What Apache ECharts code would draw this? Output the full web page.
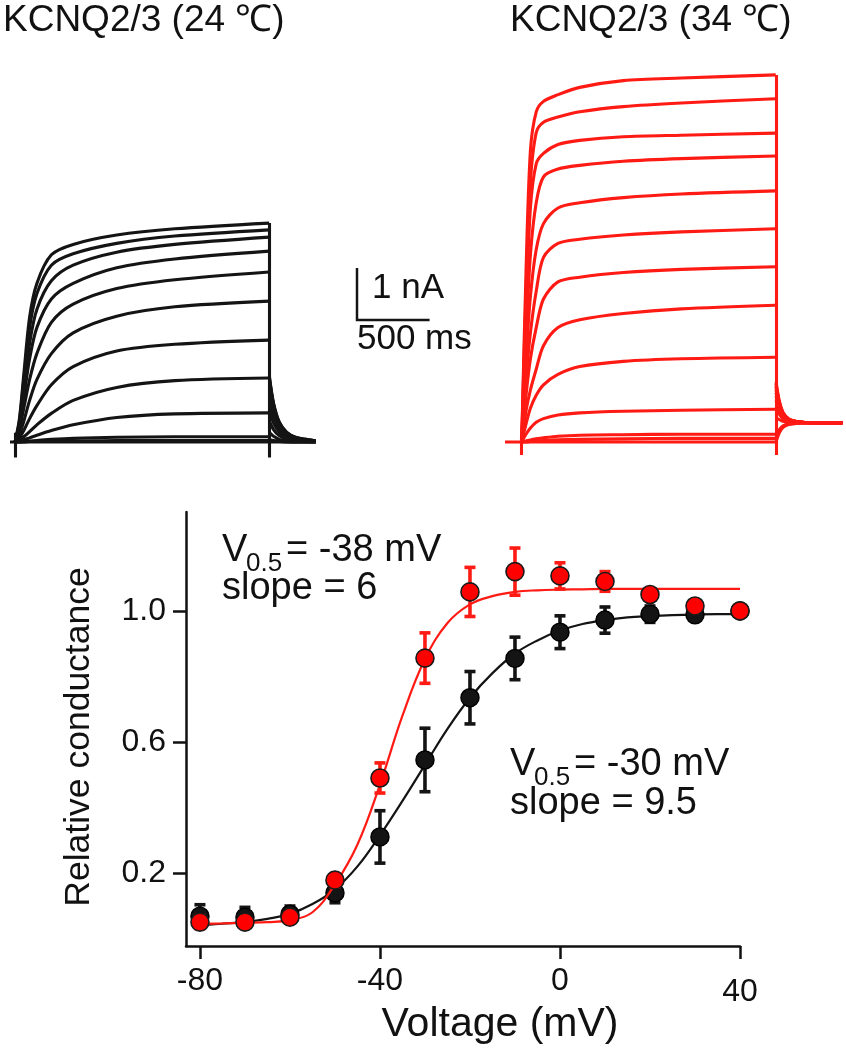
<!DOCTYPE html>
<html><head><meta charset="utf-8">
<script src="https://cdn.jsdelivr.net/npm/echarts@6/dist/echarts.min.js"></script>
<style>html,body{margin:0;padding:0;background:#fff}#c{width:846px;height:1050px}</style>
</head><body><div id="c"></div>
<script>
// ---------------- Current traces (time in ms, current in nA) ----------------
const traceTimes = [0, 30, 60, 100, 150, 250, 400, 700, 1100, 1750];
const pulseEnd = 1750;
const tailTimes24 = [1752, 1780, 1820, 1870, 1930, 2000, 2070];
const tailTimes34 = [1752, 1775, 1800, 1840, 1900, 2000, 2100, 2210];
const baselineStart24 = -35;
const baselineStart34 = -115;

const traces24 = [
  [0, 0.45, 1.30, 2.40, 3.05, 3.60, 3.80, 3.98, 4.10, 4.21],
  [0, 0.40, 1.20, 2.20, 2.85, 3.40, 3.62, 3.82, 3.96, 4.08],
  [0, 0.35, 1.00, 1.90, 2.55, 3.10, 3.40, 3.65, 3.80, 3.94],
  [0, 0.30, 0.85, 1.60, 2.20, 2.75, 3.05, 3.35, 3.52, 3.67],
  [0, 0.25, 0.65, 1.20, 1.70, 2.30, 2.65, 2.95, 3.12, 3.27],
  [0, 0.15, 0.40, 0.80, 1.20, 1.70, 2.10, 2.42, 2.60, 2.71],
  [0, 0.08, 0.22, 0.45, 0.70, 1.10, 1.45, 1.75, 1.88, 1.96],
  [0, 0.04, 0.10, 0.20, 0.33, 0.55, 0.80, 1.05, 1.18, 1.23],
  [0, 0.02, 0.04, 0.08, 0.13, 0.22, 0.33, 0.47, 0.54, 0.56],
  [0, 0.00, 0.01, 0.02, 0.03, 0.05, 0.07, 0.09, 0.10, 0.10],
  [0, 0.00, 0.00, 0.01, 0.01, 0.02, 0.02, 0.03, 0.03, 0.03],
  [0, 0, 0, 0, 0, 0, 0, 0, 0, 0]
];
const tails24 = [
  [1.25, 0.75, 0.38, 0.19, 0.09, 0.05, 0.02],
  [1.22, 0.73, 0.37, 0.18, 0.09, 0.05, 0.02],
  [1.18, 0.71, 0.35, 0.18, 0.08, 0.05, 0.02],
  [1.10, 0.66, 0.33, 0.17, 0.08, 0.04, 0.02],
  [1.00, 0.60, 0.30, 0.15, 0.07, 0.04, 0.02],
  [0.85, 0.51, 0.26, 0.13, 0.06, 0.03, 0.01],
  [0.62, 0.37, 0.19, 0.09, 0.04, 0.02, 0.01],
  [0.40, 0.24, 0.12, 0.06, 0.03, 0.02, 0.01],
  [0.18, 0.11, 0.05, 0.03, 0.01, 0.01, 0.00],
  [0.05, 0.03, 0.02, 0.01, 0.00, 0.00, 0.00],
  [0.02, 0.01, 0.01, 0.00, 0.00, 0.00, 0.00],
  [0.00, 0.00, 0.00, 0.00, 0.00, 0.00, 0.00]
];
const traces34 = [
  [0, 3.30, 5.60, 6.35, 6.55, 6.68, 6.82, 6.95, 7.00, 7.06],
  [0, 2.90, 5.00, 5.95, 6.15, 6.25, 6.35, 6.45, 6.52, 6.60],
  [0, 2.50, 4.50, 5.35, 5.55, 5.72, 5.80, 5.87, 5.90, 5.94],
  [0, 2.00, 3.60, 4.60, 5.10, 5.25, 5.32, 5.40, 5.45, 5.50],
  [0, 1.60, 2.80, 3.70, 4.20, 4.50, 4.60, 4.70, 4.77, 4.83],
  [0, 1.20, 2.10, 2.90, 3.55, 3.82, 3.90, 3.98, 4.04, 4.10],
  [0, 0.90, 1.60, 2.20, 2.75, 3.08, 3.17, 3.26, 3.32, 3.37],
  [0, 0.60, 1.00, 1.40, 1.85, 2.20, 2.35, 2.47, 2.56, 2.63],
  [0, 0.35, 0.65, 0.90, 1.10, 1.30, 1.45, 1.55, 1.60, 1.63],
  [0, 0.15, 0.27, 0.38, 0.45, 0.52, 0.56, 0.59, 0.61, 0.63],
  [0, 0.02, 0.04, 0.06, 0.08, 0.11, 0.13, 0.14, 0.15, 0.15],
  [0, 0.00, 0.01, 0.02, 0.03, 0.04, 0.05, 0.06, 0.07, 0.07],
  [0, 0, 0, 0, 0, 0, 0, 0, 0, 0]
];
const tails34 = [
  [1.15, 0.78, 0.57, 0.44, 0.39, 0.37, 0.37, 0.37],
  [1.12, 0.76, 0.56, 0.44, 0.39, 0.37, 0.37, 0.37],
  [1.08, 0.74, 0.55, 0.43, 0.39, 0.37, 0.37, 0.37],
  [1.05, 0.72, 0.54, 0.43, 0.39, 0.37, 0.37, 0.37],
  [1.00, 0.70, 0.53, 0.43, 0.39, 0.37, 0.37, 0.37],
  [0.95, 0.67, 0.52, 0.42, 0.39, 0.37, 0.37, 0.37],
  [0.88, 0.64, 0.50, 0.42, 0.38, 0.37, 0.37, 0.37],
  [0.80, 0.60, 0.48, 0.41, 0.38, 0.37, 0.37, 0.37],
  [0.65, 0.53, 0.45, 0.40, 0.38, 0.37, 0.37, 0.37],
  [0.45, 0.43, 0.40, 0.38, 0.37, 0.37, 0.37, 0.37],
  [0.12, 0.24, 0.31, 0.35, 0.37, 0.37, 0.37, 0.37],
  [0.06, 0.20, 0.29, 0.34, 0.36, 0.37, 0.37, 0.37],
  [0.00, 0.18, 0.28, 0.34, 0.36, 0.37, 0.37, 0.37]
];
// capacitive transients [time, from nA, to nA]
const transients24 = [[0, -0.30, 0.18], [pulseEnd, -0.30, 4.21]];
const transients34 = [[0, -0.25, 0.10], [pulseEnd, -0.25, 7.06]];
// scale bar: 500 ms, 1 nA
const scaleBarTime = 500;
const scaleBarCurrent = 1;
const scaleBarOrigin = [186, 2.346];

// ---------------- Conductance-voltage ----------------
const voltages = [-80, -70, -60, -50, -40, -30, -20, -10, 0, 10, 20, 30, 40];
const g24   = [0.068, 0.065, 0.074, 0.139, 0.31, 0.545, 0.735, 0.855, 0.935, 0.972, 0.99, 0.988, 1.0];
const err24 = [0.035, 0.03, 0.025, 0.03, 0.08, 0.097, 0.08, 0.065, 0.05, 0.04, 0.025, 0.015, 0];
const g34   = [0.05, 0.05, 0.065, 0.178, 0.49, 0.856, 1.058, 1.12, 1.107, 1.09, 1.05, 1.015, 1.0];
const err34 = [0.02, 0.015, 0.015, 0.02, 0.046, 0.077, 0.075, 0.072, 0.04, 0.03, 0.015, 0, 0];
const fitVoltages = [-80, -75, -70, -65, -60, -55, -50, -45, -40, -35, -30, -25, -20, -15, -10, -5, 0, 5, 10, 15, 20, 25, 30, 35, 40];
const fit24 = [0.04, 0.045, 0.05, 0.06, 0.075, 0.105, 0.15, 0.22, 0.315, 0.42, 0.53, 0.64, 0.735, 0.81, 0.87, 0.91, 0.94, 0.96, 0.972, 0.98, 0.984, 0.987, 0.989, 0.99, 0.99];
const fit34 = [0.045, 0.046, 0.048, 0.05, 0.056, 0.08, 0.165, 0.287, 0.47, 0.68, 0.853, 0.963, 1.02, 1.045, 1.058, 1.063, 1.065, 1.066, 1.067, 1.067, 1.067, 1.067, 1.067, 1.067, 1.067];
const xTicks = [-80, -40, 0, 40];
const yTicks = [0.2, 0.6, 1.0];

// ---------------- chart ----------------
const FONT = '"Liberation Sans", Arial, sans-serif';
const BLACK = '#141414';
const RED = '#ff1a14';
const chart = echarts.init(document.getElementById('c'), null, {renderer: 'canvas'});

const series = [];
function traceSeries(gi, color, data) {
  return {type: 'line', xAxisIndex: gi, yAxisIndex: gi, showSymbol: false, silent: true,
    smooth: 0.3, lineStyle: {color: color, width: 3.1}, data: data};
}
// baselines before pulse onset
series.push(traceSeries(0, BLACK, [[baselineStart24, 0], [0, 0]]));
series.push(traceSeries(1, RED, [[baselineStart34, 0], [0, 0]]));
traces24.forEach((tr, i) => {
  series.push(traceSeries(0, BLACK, traceTimes.map((t, j) => [t, tr[j]])));
  series.push(traceSeries(0, BLACK, tailTimes24.map((t, j) => [t, tails24[i][j]])));
});
traces34.forEach((tr, i) => {
  series.push(traceSeries(1, RED, traceTimes.map((t, j) => [t, tr[j]])));
  series.push(traceSeries(1, RED, tailTimes34.map((t, j) => [t, tails34[i][j]])));
});
series.push({
  type: 'lines', coordinateSystem: 'cartesian2d', xAxisIndex: 0, yAxisIndex: 0, silent: true,
  lineStyle: {color: BLACK, width: 3.1, opacity: 1},
  data: transients24.map(t => ({coords: [[t[0], t[1]], [t[0], t[2]]]}))
});
series.push({
  type: 'lines', coordinateSystem: 'cartesian2d', xAxisIndex: 1, yAxisIndex: 1, silent: true,
  lineStyle: {color: RED, width: 3.1, opacity: 1},
  data: transients34.map(t => ({coords: [[t[0], t[1]], [t[0], t[2]]]}))
});
series.push({
  type: 'lines', coordinateSystem: 'cartesian2d', xAxisIndex: 2, yAxisIndex: 2, silent: true,
  polyline: true,
  lineStyle: {color: BLACK, width: 2.5, opacity: 1},
  data: [{coords: [
    [scaleBarOrigin[0], scaleBarOrigin[1] + scaleBarCurrent],
    [scaleBarOrigin[0], scaleBarOrigin[1]],
    [scaleBarOrigin[0] + scaleBarTime, scaleBarOrigin[1]]
  ]}]
});

function errSeries(vals, errs, color, z) {
  return {
    type: 'custom', xAxisIndex: 3, yAxisIndex: 3, z: z, silent: true,
    data: voltages.map((v, i) => [v, vals[i] - errs[i], vals[i] + errs[i]]).filter((d, i) => errs[i] > 0),
    renderItem(params, api) {
      const lo = api.coord([api.value(0), api.value(1)]);
      const hi = api.coord([api.value(0), api.value(2)]);
      const cw = 5.5;
      const st = {stroke: color, lineWidth: 3.6};
      return {type: 'group', children: [
        {type: 'line', shape: {x1: lo[0], y1: lo[1], x2: hi[0], y2: hi[1]}, style: st},
        {type: 'line', shape: {x1: lo[0] - cw, y1: lo[1], x2: lo[0] + cw, y2: lo[1]}, style: st},
        {type: 'line', shape: {x1: hi[0] - cw, y1: hi[1], x2: hi[0] + cw, y2: hi[1]}, style: st}
      ]};
    }
  };
}
series.push({
  type: 'line', xAxisIndex: 3, yAxisIndex: 3, z: 2, showSymbol: false, silent: true, smooth: 0.4,
  lineStyle: {color: BLACK, width: 2.2},
  data: fitVoltages.map((v, i) => [v, fit24[i]])
});
series.push(errSeries(g24, err24, BLACK, 3));
series.push({
  type: 'scatter', xAxisIndex: 3, yAxisIndex: 3, z: 4, silent: true, symbol: 'circle', symbolSize: 18,
  itemStyle: {color: BLACK, borderColor: '#000', borderWidth: 1.5, opacity: 1},
  data: voltages.map((v, i) => [v, g24[i]])
});
series.push({
  type: 'line', xAxisIndex: 3, yAxisIndex: 3, z: 5, showSymbol: false, silent: true, smooth: 0.4,
  lineStyle: {color: RED, width: 2.2},
  data: fitVoltages.map((v, i) => [v, fit34[i]])
});
series.push(errSeries(g34, err34, RED, 6));
series.push({
  type: 'scatter', xAxisIndex: 3, yAxisIndex: 3, z: 7, silent: true, symbol: 'circle', symbolSize: 18,
  itemStyle: {color: '#ff0000', borderColor: '#1a1a1a', borderWidth: 1.6, opacity: 1},
  data: voltages.map((v, i) => [v, g34[i]])
});

const hiddenX = (min, max, gi) => ({type: 'value', gridIndex: gi, min, max, show: false});
const hiddenY = (gi) => ({type: 'value', gridIndex: gi, min: -0.5, max: 7.5, show: false});
const axisStyle = {color: '#111', width: 2.5};

function txt(x, y, text, size, align, extra) {
  return Object.assign({type: 'text', x, y, silent: true, style: {
    text, fontSize: size, fontFamily: FONT, fill: '#111',
    align: align || 'left', verticalAlign: 'middle'
  }}, extra || {});
}

chart.setOption({
  animation: false,
  backgroundColor: '#fff',
  grid: [
    {left: 10, top: 52, width: 310, height: 416},
    {left: 505, top: 52, width: 339, height: 416},
    {left: 330, top: 52, width: 170, height: 416},
    {left: 186, top: 512, width: 554, height: 434}
  ],
  xAxis: [
    hiddenX(baselineStart24, 2100, 0),
    hiddenX(baselineStart34, 2220, 1),
    hiddenX(0, 1171, 2),
    {type: 'value', gridIndex: 3, min: -83.1, max: 40,
     axisLine: {show: true, onZero: false, lineStyle: axisStyle},
     axisTick: {show: true, customValues: xTicks, length: 13, lineStyle: axisStyle},
     axisLabel: {customValues: xTicks, fontSize: 32, fontFamily: FONT, color: '#111', margin: 19,
       formatter: v => v === 40 ? '{low|40}' : String(v),
       rich: {low: {fontSize: 32, fontFamily: FONT, color: '#111', padding: [11, 0, 0, 0]}}},
     splitLine: {show: false}}
  ],
  yAxis: [
    hiddenY(0), hiddenY(1), hiddenY(2),
    {type: 'value', gridIndex: 3, min: -0.023, max: 1.302,
     axisLine: {show: true, onZero: false, lineStyle: axisStyle},
     axisTick: {show: true, customValues: yTicks, length: 13, lineStyle: axisStyle},
     axisLabel: {customValues: yTicks, fontSize: 32, fontFamily: FONT, color: '#111', margin: 20,
       formatter: v => v.toFixed(1)},
     splitLine: {show: false}}
  ],
  series: series,
  graphic: [
    txt(3, 21, 'KCNQ2/3 (24 ℃)', 37),
    txt(510, 21, 'KCNQ2/3 (34 ℃)', 37),
    txt(372, 288, '1 nA', 35),
    txt(357, 339, '500 ms', 35),
    txt(500, 1025, 'Voltage (mV)', 41, 'center'),
    txt(79, 737, 'Relative conductance', 35.5, 'center', {rotation: Math.PI / 2}),
    txt(222, 551, 'V', 38),
    txt(246, 564, '0.5', 26),
    txt(286, 551, '= -38 mV', 38),
    txt(222, 589, 'slope = 6', 38),
    txt(510, 765, 'V', 38),
    txt(534, 778, '0.5', 26),
    txt(574, 765, '= -30 mV', 38),
    txt(510, 804, 'slope = 9.5', 38)
  ]
});
</script>
</body></html>
